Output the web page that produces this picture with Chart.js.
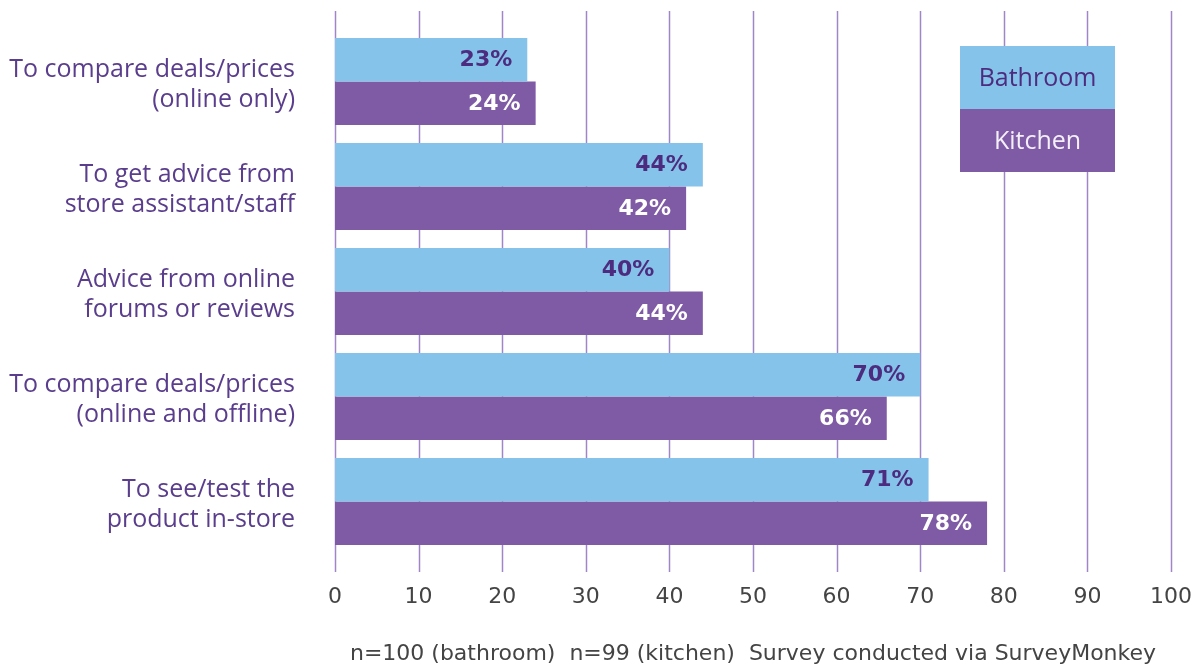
<!DOCTYPE html>
<html>
<head>
<meta charset="utf-8">
<style>
  html, body { margin: 0; padding: 0; background: #fff; }
  #wrap { width: 1202px; height: 671px; position: relative; }
</style>
<script src="https://cdn.jsdelivr.net/npm/chart.js@4.4.0/dist/chart.umd.min.js"></script>
</head>
<body>
<div id="wrap"><canvas id="chart" width="1202" height="671"></canvas></div>
<script>
// categories (each one split on two lines)
const categories = [
    ['To compare deals/prices', '(online only)'],
    ['To get advice from', 'store assistant/staff'],
    ['Advice from online', 'forums or reviews'],
    ['To compare deals/prices', '(online and offline)'],
    ['To see/test the', 'product in-store']
];
const bathroomValues = [23, 44, 40, 70, 71];
const kitchenValues = [24, 42, 44, 66, 78];
const seriesNames = ['Bathroom', 'Kitchen'];
const footnote = 'n=100 (bathroom)  n=99 (kitchen)  Survey conducted via SurveyMonkey';

const blue = '#85c3ea';
const purple = '#7f5ba5';
const darkPurple = '#4d2c7f';
const labelPurple = '#5a3d8c';
const fontFamily = '"Open Sans", Lato, sans-serif';
const wideFont = '"DejaVu Sans", sans-serif';

// vertical grid lines, a bit longer than the plot area
const gridPlugin = {
    id: 'gridLines',
    beforeDatasetsDraw(chart) {
        const ctx = chart.ctx;
        const x = chart.scales.x;
        const area = chart.chartArea;
        ctx.save();
        ctx.strokeStyle = '#9e86c7';
        ctx.lineWidth = 1.5;
        x.ticks.forEach(t => {
            const px = Math.round(x.getPixelForValue(t.value)) + 0.5;
            ctx.beginPath();
            ctx.moveTo(px, area.top - 18);
            ctx.lineTo(px, area.bottom + 18);
            ctx.stroke();
        });
        ctx.restore();
    }
};

// percent labels inside bar ends + legend box
const labelPlugin = {
    id: 'barLabels',
    afterDatasetsDraw(chart) {
        const ctx = chart.ctx;
        ctx.save();
        ctx.font = 'bold 22px ' + wideFont;
        ctx.textAlign = 'right';
        ctx.textBaseline = 'middle';
        chart.data.datasets.forEach((ds, i) => {
            ctx.fillStyle = i === 0 ? darkPurple : '#ffffff';
            chart.getDatasetMeta(i).data.forEach((bar, j) => {
                ctx.fillText(ds.data[j] + '%', bar.x - 15, bar.y + 1);
            });
        });

        // legend
        const lx = 960, lw = 155, lh = 63, ly = 46;
        ctx.fillStyle = blue;
        ctx.fillRect(lx, ly, lw, lh);
        ctx.fillStyle = purple;
        ctx.fillRect(lx, ly + lh, lw, lh);
        ctx.font = '25px ' + fontFamily;
        ctx.textAlign = 'center';
        ctx.fillStyle = darkPurple;
        ctx.fillText(seriesNames[0], lx + lw / 2, ly + lh / 2 + 1);
        ctx.fillStyle = '#f4eff9';
        ctx.fillText(seriesNames[1], lx + lw / 2, ly + lh + lh / 2 + 1);
        ctx.restore();
    }
};

new Chart(document.getElementById('chart'), {
    type: 'bar',
    data: {
        labels: categories,
        datasets: [
            { label: seriesNames[0], data: bathroomValues, backgroundColor: blue },
            { label: seriesNames[1], data: kitchenValues, backgroundColor: purple }
        ]
    },
    options: {
        indexAxis: 'y',
        responsive: false,
        animation: false,
        events: [],
        categoryPercentage: 0.83,
        barPercentage: 1,
        layout: { padding: { top: 29, right: 31, left: 0, bottom: 0 } },
        scales: {
            x: {
                min: 0,
                max: 100,
                ticks: { stepSize: 10, padding: 30, color: '#444', font: { family: wideFont, size: 22 } },
                grid: { display: false, drawTicks: false },
                border: { display: false },
                title: {
                    display: true,
                    text: footnote,
                    color: '#444',
                    font: { family: wideFont, size: 22 },
                    padding: { top: 31, bottom: 4 }
                },
                afterFit(scale) {
                    scale.height = 117;
                    scale.paddingLeft = 0;
                    scale.paddingRight = 0;
                }
            },
            y: {
                ticks: {
                    color: labelPurple,
                    padding: 40,
                    labelOffset: 3,
                    font: { family: fontFamily, size: 25, lineHeight: 1.2 }
                },
                grid: { display: false, drawTicks: false },
                border: { display: false },
                afterFit(scale) {
                    scale.width = 335;
                    scale.paddingTop = 0;
                    scale.paddingBottom = 0;
                }
            }
        },
        plugins: {
            legend: { display: false },
            tooltip: { enabled: false }
        }
    },
    plugins: [gridPlugin, labelPlugin]
});
</script>
</body>
</html>
